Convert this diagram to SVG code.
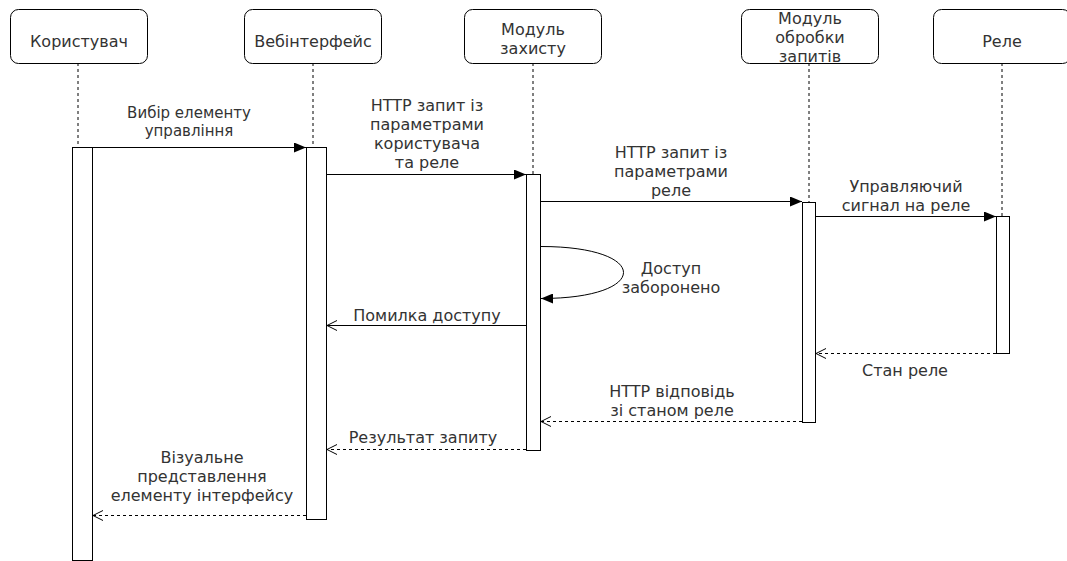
<svg xmlns="http://www.w3.org/2000/svg" width="1067" height="561" viewBox="0 0 1067 561">
<style>
.box{fill:#fff;stroke:#000;stroke-width:1}
.bar{fill:#fff;stroke:#000;stroke-width:1}
.life{stroke:#000;stroke-width:1;stroke-dasharray:3 3;fill:none}
.msg{stroke:#000;stroke-width:1;fill:none}
.ret{stroke:#000;stroke-width:1;fill:none;stroke-dasharray:3 3}
text{font-family:"DejaVu Sans","Liberation Sans",sans-serif;font-size:16px;fill:#333;text-anchor:middle}
.small{font-size:15px}
</style>
<defs>
<marker id="filled" viewBox="0 0 12 10" refX="12" refY="5" markerWidth="12" markerHeight="10" markerUnits="userSpaceOnUse" orient="auto">
<path d="M0,0 L12,5 L0,10 Z" fill="#000"/>
</marker>
<marker id="open" viewBox="0 0 12 12" refX="11" refY="6" markerWidth="12" markerHeight="12" markerUnits="userSpaceOnUse" orient="auto">
<path d="M1,1 L11,6 L1,11" fill="none" stroke="#000" stroke-width="1"/>
</marker>
</defs>

<g id="lifelines">
<line class="life" x1="78" y1="63" x2="78" y2="147"/>
<line class="life" x1="313" y1="63" x2="313" y2="147"/>
<line class="life" x1="533" y1="63" x2="533" y2="174"/>
<line class="life" x1="809" y1="63" x2="809" y2="202"/>
<line class="life" x1="1002" y1="63" x2="1002" y2="216"/>
</g>

<g id="user">
<rect class="box" x="10.5" y="9.5" width="137" height="54" rx="8"/>
<text x="79" y="47">Користувач</text>
<rect class="bar" x="72.5" y="147.5" width="20" height="413"/>
</g>

<g id="web">
<rect class="box" x="244.5" y="9.5" width="137" height="54" rx="8"/>
<text x="313" y="47">Вебінтерфейс</text>
<rect class="bar" x="306.5" y="147.5" width="20" height="372"/>
</g>

<g id="security">
<rect class="box" x="464.5" y="9.5" width="137" height="54" rx="8"/>
<text x="533" y="35">Модуль</text>
<text x="533" y="54">захисту</text>
<rect class="bar" x="526.5" y="174.5" width="14" height="276"/>
</g>

<g id="processing">
<rect class="box" x="741.5" y="9.5" width="137" height="54" rx="8"/>
<text x="810" y="24">Модуль</text>
<text x="810" y="43">обробки</text>
<text x="810" y="62">запитів</text>
<rect class="bar" x="802.5" y="202.5" width="13" height="220"/>
</g>

<g id="relay">
<rect class="box" x="933.5" y="9.5" width="137" height="54" rx="8"/>
<text x="1002" y="47">Реле</text>
<rect class="bar" x="996.5" y="216.5" width="13" height="137"/>
</g>

<g id="connectors">
<line class="msg" x1="93" y1="147.5" x2="306" y2="147.5" marker-end="url(#filled)"/>
<text class="small" x="189" y="118">Вибір елементу</text>
<text class="small" x="189" y="136">управління</text>

<line class="msg" x1="327" y1="174.5" x2="526" y2="174.5" marker-end="url(#filled)"/>
<text x="427" y="111">HTTP запит із</text>
<text x="427" y="130">параметрами</text>
<text x="427" y="149">користувача</text>
<text x="427" y="168">та реле</text>

<line class="msg" x1="541" y1="201.5" x2="802" y2="201.5" marker-end="url(#filled)"/>
<text x="671" y="158">HTTP запит із</text>
<text x="671" y="177">параметрами</text>
<text x="671" y="196">реле</text>

<line class="msg" x1="816" y1="216.5" x2="996" y2="216.5" marker-end="url(#filled)"/>
<text x="906" y="192">Управляючий</text>
<text x="906" y="211">сигнал на реле</text>

<path class="msg" d="M541,246.5 C651,246.5 651,298.5 541,298.5" marker-end="url(#filled)"/>
<text x="671" y="274">Доступ</text>
<text x="671" y="293">заборонено</text>

<line class="msg" x1="526" y1="325.5" x2="327" y2="325.5" marker-end="url(#open)"/>
<text x="427" y="321">Помилка доступу</text>

<line class="ret" x1="996" y1="353.5" x2="816" y2="353.5" marker-end="url(#open)"/>
<text x="905" y="376">Стан реле</text>

<line class="ret" x1="802" y1="421.5" x2="541" y2="421.5" marker-end="url(#open)"/>
<text x="672" y="397">HTTP відповідь</text>
<text x="672" y="416">зі станом реле</text>

<line class="ret" x1="526" y1="449.5" x2="327" y2="449.5" marker-end="url(#open)"/>
<text x="423" y="443">Результат запиту</text>

<line class="ret" x1="306" y1="515.5" x2="93" y2="515.5" marker-end="url(#open)"/>
<text x="202" y="463">Візуальне</text>
<text x="202" y="482">представлення</text>
<text x="202" y="501">елементу інтерфейсу</text>
</g>
</svg>
